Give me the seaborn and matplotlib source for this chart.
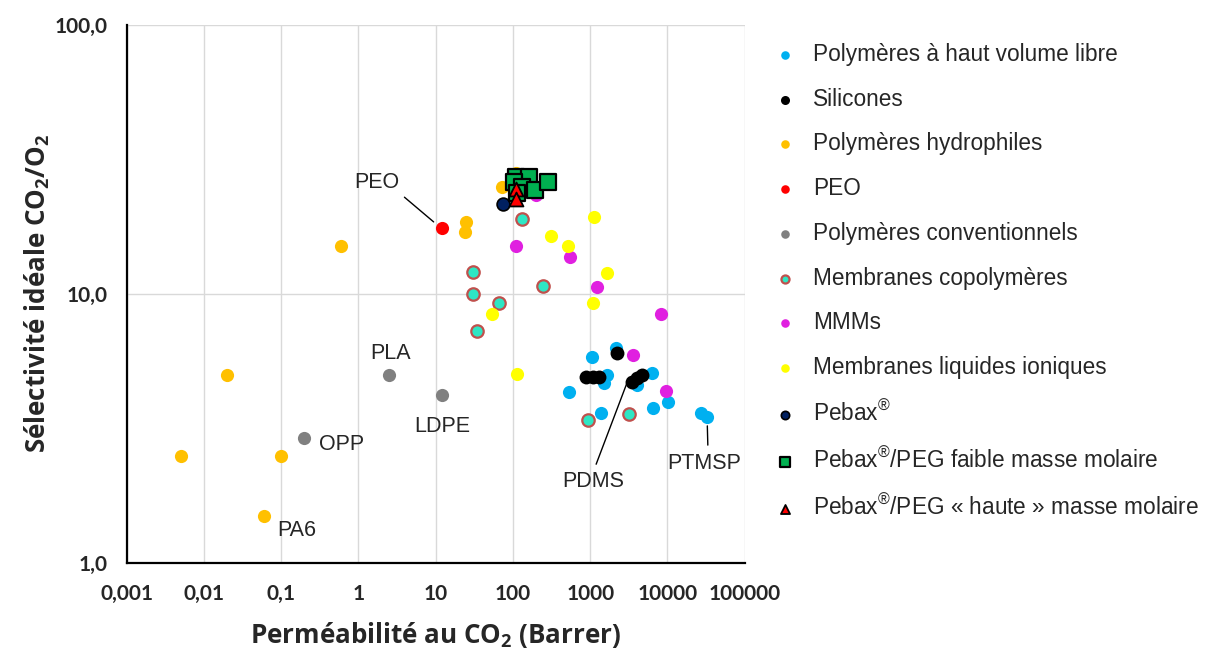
import numpy as np
import pandas as pd
import matplotlib
matplotlib.use("Agg")
import matplotlib.pyplot as plt
import seaborn as sns

# valeurs (permeabilite CO2 en Barrer, selectivite CO2/O2)
haut_volume_x = [1067, 2180, 538, 1670, 1527, 1396, 4080, 6380, 6570, 10280, 27500, 32800]
haut_volume_y = [5.83, 6.3, 4.32, 5.0, 4.67, 3.61, 4.59, 5.09, 3.77, 3.97, 3.61, 3.49]

silicones_x = [2250, 894, 1100, 1315, 3515, 4080, 4730]
silicones_y = [6.0, 4.9, 4.9, 4.9, 4.7, 4.87, 5.0]

hydrophiles_x = [0.005, 0.02, 0.1, 0.06, 0.6, 25, 24, 73, 110]
hydrophiles_y = [2.5, 5.0, 2.5, 1.5, 15.0, 18.5, 17.0, 25.0, 28.0]

peo_x = [12]
peo_y = [17.6]

conventionnels_x = [2.5, 0.2, 12]
conventionnels_y = [5.0, 2.92, 4.2]

copolymeres_x = [129, 30.8, 30, 65, 248, 34.7, 948, 3215]
copolymeres_y = [19.0, 12.0, 10.0, 9.26, 10.7, 7.28, 3.4, 3.58]

mmm_x = [111, 555, 1240, 8340, 3620, 9680, 201]
mmm_y = [15.0, 13.7, 10.6, 8.43, 5.93, 4.36, 23.3]

liquides_x = [1133, 315, 522, 1670, 1100, 54, 114]
liquides_y = [19.3, 16.4, 15.1, 11.9, 9.26, 8.43, 5.04]

pebax_x = [75]
pebax_y = [21.6]

peg_faible_x = [111, 163, 104, 129, 190, 288, 114]
peg_faible_y = [27.2, 27.2, 26.1, 25.0, 24.4, 26.1, 23.7]

peg_haute_x = [111, 108]
peg_haute_y = [24.6, 22.6]

x_ticks = [0.001, 0.01, 0.1, 1, 10, 100, 1000, 10000, 100000]
x_labels = ["0,001", "0,01", "0,1", "1", "10", "100", "1000", "10000", "100000"]
y_ticks = [1, 10, 100]
y_labels = ["1,0", "10,0", "100,0"]

series = [
    ("Polymères à haut volume libre", haut_volume_x, haut_volume_y, "#00B0F0", "#00B0F0", "o", 0.0, 90),
    ("Silicones", silicones_x, silicones_y, "#000000", "#000000", "o", 0.0, 100),
    ("Polymères hydrophiles", hydrophiles_x, hydrophiles_y, "#FFC000", "#FFC000", "o", 0.0, 90),
    ("PEO", peo_x, peo_y, "#FF0000", "#FF0000", "o", 0.0, 90),
    ("Polymères conventionnels", conventionnels_x, conventionnels_y, "#808080", "#808080", "o", 0.0, 90),
    ("Membranes copolymères", copolymeres_x, copolymeres_y, "#2EE6C4", "#C0504D", "o", 1.6, 80),
    ("MMMs", mmm_x, mmm_y, "#E020E0", "#E020E0", "o", 0.0, 90),
    ("Membranes liquides ioniques", liquides_x, liquides_y, "#FFFF00", "#FFFF00", "o", 0.0, 90),
    ("Pebax$^{®}$", pebax_x, pebax_y, "#002060", "#000000", "o", 1.2, 85),
    ("Pebax$^{®}$/PEG faible masse molaire", peg_faible_x, peg_faible_y, "#00B050", "#000000", "s", 1.6, 125),
    ("Pebax$^{®}$/PEG « haute » masse molaire", peg_haute_x, peg_haute_y, "#FF0000", "#000000", "^", 1.3, 100),
]

sns.set_style("white")
plt.rcParams["font.family"] = ["Liberation Sans", "DejaVu Sans"]
plt.rcParams["mathtext.fontset"] = "custom"
plt.rcParams["mathtext.rm"] = "Liberation Sans"
plt.rcParams["mathtext.bf"] = "Open Sans:bold"

fig = plt.figure(figsize=(12.07, 6.5), dpi=100)
ax = fig.add_axes([0.105, 0.134, 0.512, 0.828])

for nom, xs, ys, couleur, bord, marque, lw, taille in series:
    df = pd.DataFrame({"x": xs, "y": ys})
    sns.scatterplot(data=df, x="x", y="y", ax=ax, color=couleur, edgecolor=bord,
                    marker=marque, linewidth=lw, s=taille, label=nom, zorder=3)

ax.set_xscale("log")
ax.set_yscale("log")
ax.set_xlim(0.001, 100000)
ax.set_ylim(1, 100)
ax.set_xticks(x_ticks, x_labels)
ax.set_yticks(y_ticks, y_labels)

ax.grid(True, which="major", color="#d9d9d9", lw=1.0, zorder=0)
ax.set_axisbelow(True)
for cote in ["top", "right"]:
    ax.spines[cote].set_visible(False)
for cote in ["left", "bottom"]:
    ax.spines[cote].set_color("black")
    ax.spines[cote].set_linewidth(1.6)

ax.tick_params(axis="both", which="both", direction="in", color="black", width=1.2)
ax.tick_params(axis="x", which="major", length=6, pad=15.5)
ax.tick_params(axis="x", which="minor", length=3.5)
ax.tick_params(axis="y", which="major", length=5, pad=14)
ax.tick_params(axis="y", which="minor", length=5)
for lab in ax.get_xticklabels() + ax.get_yticklabels():
    lab.set_fontfamily("Lato")
    lab.set_fontweight("bold")
    lab.set_fontsize(15)

ax.set_xlabel("Perméabilité au CO$_\\mathbf{2}$ (Barrer)", fontfamily="Open Sans",
              fontweight="bold", fontsize=18.7, labelpad=11)
ax.set_ylabel("Sélectivité idéale CO$_\\mathbf{2}$/O$_\\mathbf{2}$", fontfamily="Open Sans",
              fontweight="bold", fontsize=18.7, labelpad=1.5)

# etiquettes des materiaux
fs = 15.5
ax.annotate("PEO", xy=(9.4, 18.5), xytext=(1.71, 26.0), ha="center", va="center", fontsize=fs,
            arrowprops=dict(arrowstyle="-", color="black", lw=1, relpos=(1, 0), shrinkA=2, shrinkB=0))
ax.text(2.6, 6.0, "PLA", ha="center", va="center", fontsize=fs)
ax.text(12.2, 3.2, "LDPE", ha="center", va="center", fontsize=fs)
ax.text(0.60, 2.75, "OPP", ha="center", va="center", fontsize=fs)
ax.text(0.158, 1.315, "PA6", ha="center", va="center", fontsize=fs)
ax.annotate("PDMS", xy=(3030, 4.71), xytext=(1100, 2.0), ha="center", va="center", fontsize=fs,
            arrowprops=dict(arrowstyle="-", color="black", lw=1, relpos=(0.5, 1), shrinkA=3, shrinkB=0))
ax.annotate("PTMSP", xy=(32800, 3.23), xytext=(30000, 2.35), ha="center", va="center", fontsize=fs,
            arrowprops=dict(arrowstyle="-", color="black", lw=1, relpos=(0.55, 1), shrinkA=3, shrinkB=0))

handles, labels = ax.get_legend_handles_labels()
ax.legend(handles, labels, loc="upper left", bbox_to_anchor=(0.6335, 0.948),
          bbox_transform=fig.transFigure, frameon=False, fontsize=16.3,
          markerscale=0.65, handlelength=1.0, handletextpad=0.75, labelspacing=0.96,
          borderaxespad=0)

fig.savefig("out.png", dpi=100)
